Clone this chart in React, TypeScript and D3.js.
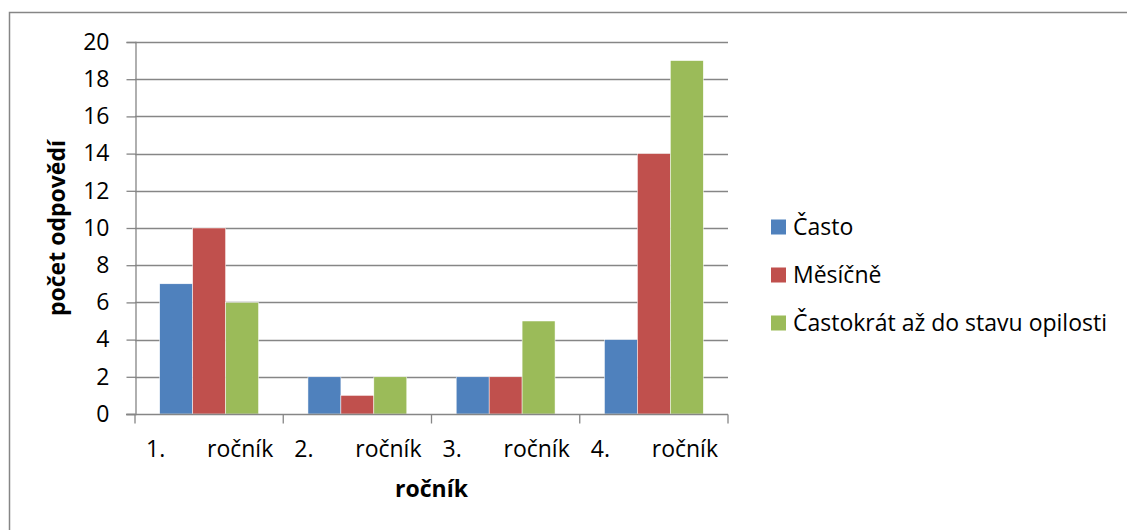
import React, { useEffect, useRef } from 'react';
import * as d3 from 'd3';

const categories = ['1. ročník', '2. ročník', '3. ročník', '4. ročník'];
const seriesNames = ['Často', 'Měsíčně', 'Častokrát až do stavu opilosti'];
const casto = [7, 2, 2, 4];
const mesicne = [10, 1, 2, 14];
const castokrat = [6, 2, 5, 19];
const yTicks = [0, 2, 4, 6, 8, 10, 12, 14, 16, 18, 20];
const colors = ['#4F81BD', '#C0504D', '#9BBB59'];

const width = 1127;
const height = 530;
const margin = { left: 135, right: 399, top: 42, bottom: 116 };
const font = '"Open Sans", "Liberation Sans", sans-serif';
const fs = 23;

export default function App() {
  const ref = useRef<SVGSVGElement>(null);

  useEffect(() => {
    const svg = d3.select(ref.current);
    svg.selectAll('*').remove();

    const values = [casto, mesicne, castokrat];
    const x0 = d3.scaleBand<string>()
      .domain(categories)
      .range([margin.left, width - margin.right])
      .padding(0);
    const x1 = d3.scaleBand<string>()
      .domain(seriesNames)
      .range([0, x0.bandwidth()])
      .paddingInner(0)
      .paddingOuter(0.75);
    const y = d3.scaleLinear()
      .domain([0, 20])
      .range([height - margin.bottom, margin.top]);

    // outer frame
    svg.append('rect')
      .attr('x', 9.5).attr('y', 12.5)
      .attr('width', 1200).attr('height', 600)
      .attr('fill', 'white')
      .attr('stroke', '#868686')
      .attr('stroke-width', 1.5);

    // gridlines
    svg.append('g')
      .selectAll('line')
      .data(yTicks.filter((d) => d > 0))
      .enter()
      .append('line')
      .attr('x1', margin.left).attr('x2', width - margin.right)
      .attr('y1', (d) => Math.round(y(d)) + 0.5)
      .attr('y2', (d) => Math.round(y(d)) + 0.5)
      .attr('stroke', '#868686')
      .attr('stroke-width', 1.3);

    // bars
    seriesNames.forEach((s, si) => {
      svg.append('g')
        .selectAll('rect')
        .data(values[si])
        .enter()
        .append('rect')
        .attr('x', (d, i) => x0(categories[i])! + x1(s)!)
        .attr('y', (d) => y(d))
        .attr('width', x1.bandwidth())
        .attr('height', (d) => y(0) - y(d))
        .attr('fill', colors[si])
        .attr('stroke', 'white')
        .attr('stroke-width', 0.5);
    });

    // y axis
    const yAxis = svg.append('g')
      .attr('transform', `translate(${margin.left + 0.5},0)`)
      .call(d3.axisLeft(y).tickValues(yTicks).tickSize(9).tickPadding(17));
    yAxis.select('.domain').attr('stroke', '#868686').attr('stroke-width', 1.3);
    yAxis.selectAll('.tick line').attr('stroke', '#868686').attr('stroke-width', 1.3);
    yAxis.selectAll('.tick text')
      .attr('font-family', font)
      .attr('font-size', fs)
      .attr('fill', '#000');

    // x axis
    const bottom = Math.round(y(0)) + 0.5;
    const xAxis = svg.append('g').attr('transform', `translate(0,${bottom})`);
    xAxis.append('line')
      .attr('x1', margin.left - 9).attr('x2', width - margin.right)
      .attr('stroke', '#868686').attr('stroke-width', 1.3);
    xAxis.selectAll('line.tk')
      .data([...categories.map((c) => x0(c)!), width - margin.right])
      .enter()
      .append('line')
      .attr('class', 'tk')
      .attr('x1', (d) => d).attr('x2', (d) => d)
      .attr('y1', 0).attr('y2', 9)
      .attr('stroke', '#868686').attr('stroke-width', 1.3);

    const labels = svg.append('g')
      .attr('font-family', font)
      .attr('font-size', fs)
      .attr('fill', '#000');
    categories.forEach((c) => {
      const [a, b] = c.split(' ');
      labels.append('text')
        .attr('x', x0(c)! + 11).attr('y', 457)
        .text(a);
      labels.append('text')
        .attr('x', x0(c)! + x0.bandwidth() - 10).attr('y', 457)
        .attr('text-anchor', 'end')
        .text(b);
    });

    // axis titles
    svg.append('text')
      .attr('x', (margin.left + width - margin.right) / 2)
      .attr('y', 497)
      .attr('text-anchor', 'middle')
      .attr('font-family', font)
      .attr('font-size', fs)
      .attr('font-weight', 'bold')
      .text('ročník');
    svg.append('text')
      .attr('transform', `translate(65,${(y(0) + y(20)) / 2}) rotate(-90)`)
      .attr('text-anchor', 'middle')
      .attr('font-family', font)
      .attr('font-size', fs)
      .attr('font-weight', 'bold')
      .text('počet odpovědí');

    // legend
    const legend = svg.append('g')
      .selectAll('g')
      .data(seriesNames)
      .enter()
      .append('g')
      .attr('transform', (d, i) => `translate(771,${227 + i * 48})`);
    legend.append('rect')
      .attr('x', 0).attr('y', -7.5)
      .attr('width', 15).attr('height', 15)
      .attr('fill', (d, i) => colors[i]);
    legend.append('text')
      .attr('x', 22).attr('y', 8)
      .attr('font-family', font)
      .attr('font-size', fs)
      .attr('fill', '#000')
      .text((d) => d);
  }, []);

  return (
    <svg
      ref={ref}
      width={width}
      height={height}
      style={{ position: 'absolute', left: 0, top: 0, background: 'white' }}
    />
  );
}
